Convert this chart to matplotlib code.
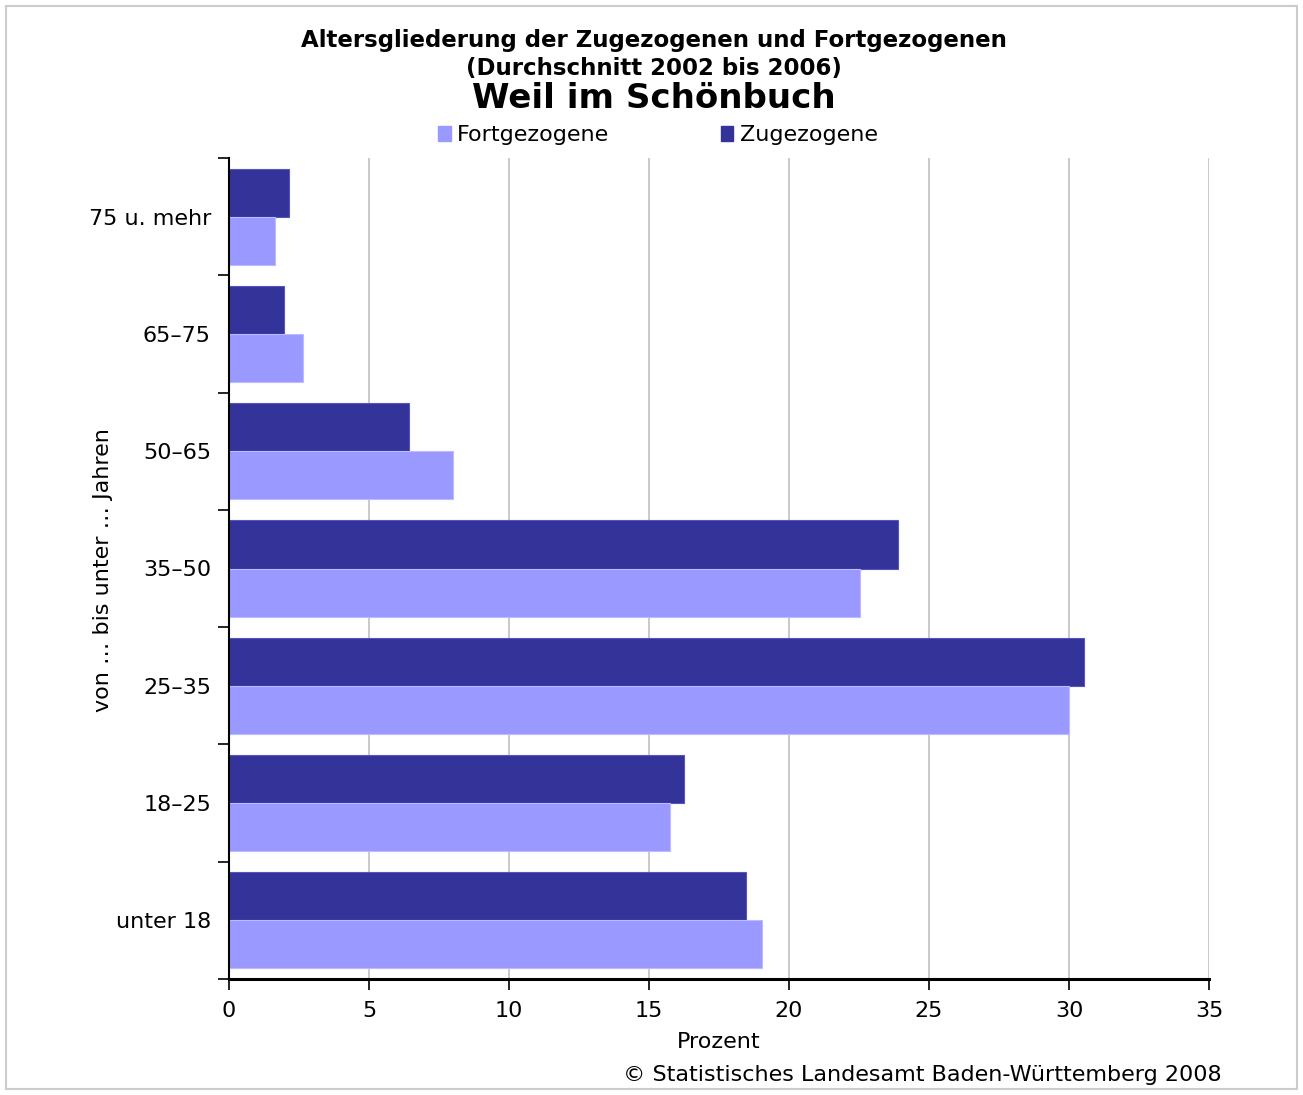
import matplotlib
matplotlib.use("Agg")
import matplotlib.pyplot as plt
from matplotlib.patches import Rectangle, Patch
import numpy as np

# data (Prozent)
categories = ["unter 18", "18–25", "25–35", "35–50", "50–65", "65–75", "75 u. mehr"]
zugezogene = [18.46, 16.25, 30.55, 23.9, 6.43, 1.95, 2.15]
fortgezogene = [19.04, 15.75, 30.0, 22.54, 8.0, 2.65, 1.65]

col_zu = "#333399"
col_fort = "#9999ff"
fs = 16

plt.rcParams['font.family'] = ['DejaVu Sans']

fig = plt.figure(figsize=(13.03, 10.95), dpi=100)
ax = fig.add_axes([229 / 1303, 1 - 979 / 1095, 980 / 1303, 821 / 1095])

y = np.arange(len(categories))
h = 0.41
ax.barh(y + h / 2, zugezogene, height=h, color=col_zu, edgecolor="#5555bb", linewidth=0.8, zorder=3)
ax.barh(y - h / 2, fortgezogene, height=h, color=col_fort, edgecolor="#bbbbff", linewidth=0.8, zorder=3)

ax.set_xlim(0, 35)
ax.set_ylim(-0.5, len(categories) - 0.5)
ax.set_xticks(np.arange(0, 36, 5))
ax.set_xticklabels([str(v) for v in range(0, 36, 5)], fontsize=fs)

# category labels at centres, tick marks at boundaries
ax.set_yticks(y)
ax.set_yticklabels(categories, fontsize=fs)
ax.tick_params(axis="y", length=0, pad=13)
ax.set_yticks(np.arange(-0.5, len(categories), 1), minor=True)
ax.tick_params(axis="y", which="minor", length=8, width=1.2, direction="out")
ax.tick_params(axis="x", length=8, width=1.2, direction="out", pad=8)

ax.grid(axis="x", color="#c0c0c0", linewidth=1.2, zorder=0)
ax.set_axisbelow(True)
for s in ["top", "right"]:
    ax.spines[s].set_visible(False)
ax.spines["left"].set_linewidth(1.5)
ax.spines["bottom"].set_linewidth(2.2)
ax.spines["left"].set_zorder(4)

ax.set_xlabel("Prozent", fontsize=fs, labelpad=8)
ax.set_ylabel("von … bis unter … Jahren", fontsize=fs, va="center")
ax.yaxis.set_label_coords((103 - 229) / 980, (979 - 570) / 821)

# titles
fig.text(0.502, 1 - 41 / 1095, "Altersgliederung der Zugezogenen und Fortgezogenen",
         ha="center", va="center", fontsize=16.5, fontweight="bold")
fig.text(0.502, 1 - 68 / 1095, "(Durchschnitt 2002 bis 2006)",
         ha="center", va="center", fontsize=16.5, fontweight="bold")
fig.text(0.502, 1 - 99 / 1095, "Weil im Schönbuch",
         ha="center", va="center", fontsize=24.5, fontweight="bold")

handles = [Patch(color=col_fort, label="Fortgezogene"), Patch(color=col_zu, label="Zugezogene")]
fig.legend(handles=handles, loc="center", bbox_to_anchor=(0.505, 1 - 135 / 1095), ncol=2,
           frameon=False, fontsize=fs, handlelength=0.55, handleheight=0.65,
           handletextpad=0.3, columnspacing=5.0)

fig.text(1222 / 1303, 1 - 1075 / 1095, "© Statistisches Landesamt Baden-Württemberg 2008",
         ha="right", va="center", fontsize=fs)

# light frame round the chart
fig.patches.append(Rectangle((6 / 1303, 6 / 1095), 1291 / 1303, 1083 / 1095,
                             transform=fig.transFigure, fill=False,
                             edgecolor="#cccccc", linewidth=1.5))

fig.savefig("out.png", dpi=100)
